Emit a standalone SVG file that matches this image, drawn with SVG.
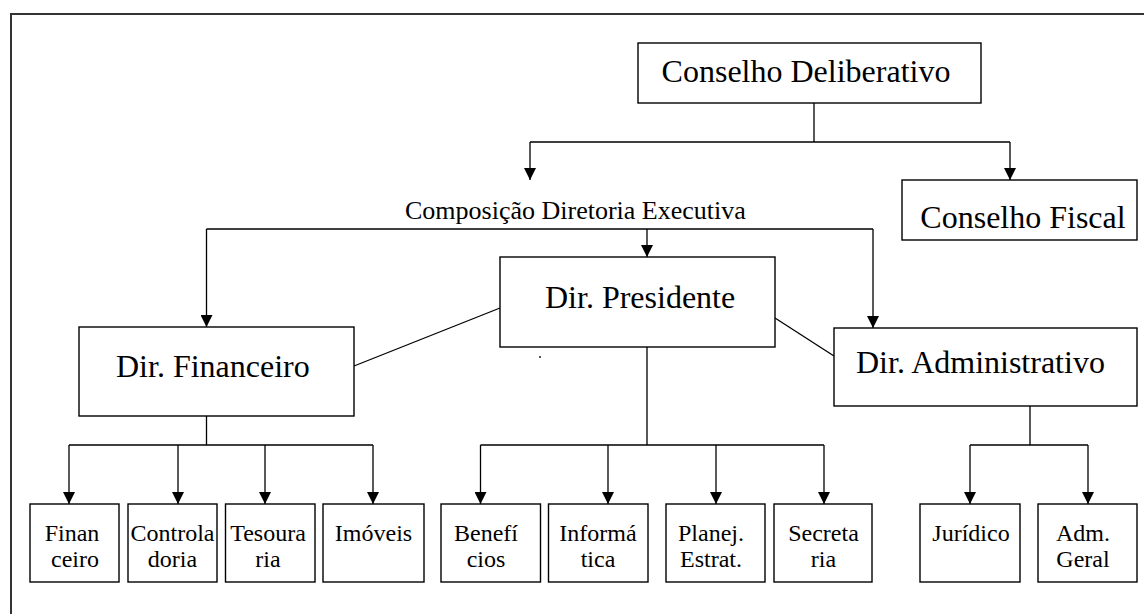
<svg xmlns="http://www.w3.org/2000/svg" width="1144" height="614" viewBox="0 0 1144 614">
  <style>
    .box { fill: #ffffff; stroke: #000000; stroke-width: 1.4; }
    .frame { fill: none; stroke: #333333; stroke-width: 2; }
    .wire { fill: none; stroke: #000000; stroke-width: 1.3; }
    .big { font-family: "Liberation Serif", "Times New Roman", serif; font-size: 32px; fill: #000000; }
    .mid { font-family: "Liberation Serif", "Times New Roman", serif; font-size: 26px; fill: #000000; }
    .small { font-family: "Liberation Serif", "Times New Roman", serif; font-size: 24px; fill: #000000; text-anchor: middle; }
  </style>
  <defs>
    <marker id="arrow" viewBox="0 0 12 12" refX="12" refY="6" markerWidth="12" markerHeight="12" markerUnits="userSpaceOnUse" orient="auto">
      <path d="M0,0 L12,6 L0,12 z" fill="#000000"/>
    </marker>
  </defs>

  <rect width="1144" height="614" fill="#ffffff"/>
  <!-- page frame (open on the right and bottom) -->
  <rect class="frame" x="11" y="14" width="1160" height="640"/>

  <!-- connectors -->
  <g id="connectors">
    <path class="wire" d="M814,103 V142 M530,142 H1010"/>
    <path class="wire" d="M530,142 V180" marker-end="url(#arrow)"/>
    <path class="wire" d="M1010,142 V180" marker-end="url(#arrow)"/>

    <path class="wire" d="M206.5,229 H873"/>
    <path class="wire" d="M206.5,229 V327" marker-end="url(#arrow)"/>
    <path class="wire" d="M647,229 V257" marker-end="url(#arrow)"/>
    <path class="wire" d="M873,229 V328" marker-end="url(#arrow)"/>

    <path class="wire" d="M354,366 L500,308"/>
    <path class="wire" d="M775,318 L834,356"/>

    <path class="wire" d="M206.5,416 V445 M69,445 H373"/>
    <path class="wire" d="M69,445 V504" marker-end="url(#arrow)"/>
    <path class="wire" d="M178,445 V504" marker-end="url(#arrow)"/>
    <path class="wire" d="M265,445 V504" marker-end="url(#arrow)"/>
    <path class="wire" d="M373,445 V504" marker-end="url(#arrow)"/>

    <path class="wire" d="M647,347 V445 M480.5,445 H824"/>
    <path class="wire" d="M480.5,445 V504" marker-end="url(#arrow)"/>
    <path class="wire" d="M608,445 V504" marker-end="url(#arrow)"/>
    <path class="wire" d="M716,445 V504" marker-end="url(#arrow)"/>
    <path class="wire" d="M824,445 V504" marker-end="url(#arrow)"/>

    <path class="wire" d="M1030,406 V445 M970,445 H1088"/>
    <path class="wire" d="M970,445 V504" marker-end="url(#arrow)"/>
    <path class="wire" d="M1088,445 V504" marker-end="url(#arrow)"/>
  </g>

  <g id="conselho-deliberativo">
    <rect class="box" x="638" y="43" width="343" height="60"/>
    <text class="big" x="806" y="82" text-anchor="middle">Conselho Deliberativo</text>
  </g>

  <g id="conselho-fiscal">
    <rect class="box" x="902" y="180" width="235" height="60"/>
    <text class="big" x="1023" y="228" text-anchor="middle">Conselho Fiscal</text>
  </g>

  <g id="composicao">
    <text class="mid" x="405" y="219">Composição Diretoria Executiva</text>
  </g>

  <g id="dir-presidente">
    <rect class="box" x="500" y="257" width="275" height="90"/>
    <text class="big" x="545" y="308">Dir. Presidente</text>
  </g>

  <g id="dir-financeiro">
    <rect class="box" x="79" y="327" width="275" height="89"/>
    <text class="big" x="116" y="377">Dir. Financeiro</text>
  </g>

  <g id="dir-administrativo">
    <rect class="box" x="834" y="328" width="303" height="78"/>
    <text class="big" x="856" y="373">Dir. Administrativo</text>
  </g>

  <!-- small mark below the president box -->
  <rect x="539" y="356" width="2" height="2" fill="#555555"/>

  <g id="financeiro">
    <rect class="box" x="30" y="504" width="89" height="78"/>
    <text class="small" x="72" y="541">Finan</text>
    <text class="small" x="75" y="567">ceiro</text>
  </g>
  <g id="controladoria">
    <rect class="box" x="128" y="504" width="89" height="78"/>
    <text class="small" x="172.5" y="541">Controla</text>
    <text class="small" x="172.5" y="567">doria</text>
  </g>
  <g id="tesouraria">
    <rect class="box" x="225.5" y="504" width="89.5" height="78"/>
    <text class="small" x="268" y="541">Tesoura</text>
    <text class="small" x="268" y="567">ria</text>
  </g>
  <g id="imoveis">
    <rect class="box" x="323" y="504" width="101" height="78"/>
    <text class="small" x="373.5" y="541">Imóveis</text>
  </g>

  <g id="beneficios">
    <rect class="box" x="441" y="504" width="99.5" height="78"/>
    <text class="small" x="486" y="541">Benefí</text>
    <text class="small" x="486" y="567">cios</text>
  </g>
  <g id="informatica">
    <rect class="box" x="548.5" y="504" width="99.5" height="78"/>
    <text class="small" x="598" y="541">Informá</text>
    <text class="small" x="598" y="567">tica</text>
  </g>
  <g id="planejamento">
    <rect class="box" x="666" y="504" width="99" height="78"/>
    <text class="small" x="711" y="541">Planej.</text>
    <text class="small" x="711" y="567">Estrat.</text>
  </g>
  <g id="secretaria">
    <rect class="box" x="774" y="504" width="98" height="78"/>
    <text class="small" x="823.5" y="541">Secreta</text>
    <text class="small" x="823.5" y="567">ria</text>
  </g>

  <g id="juridico">
    <rect class="box" x="920" y="504" width="100" height="78"/>
    <text class="small" x="971" y="541">Jurídico</text>
  </g>
  <g id="adm-geral">
    <rect class="box" x="1038" y="504" width="99" height="78"/>
    <text class="small" x="1083" y="541">Adm.</text>
    <text class="small" x="1083" y="567">Geral</text>
  </g>
</svg>
